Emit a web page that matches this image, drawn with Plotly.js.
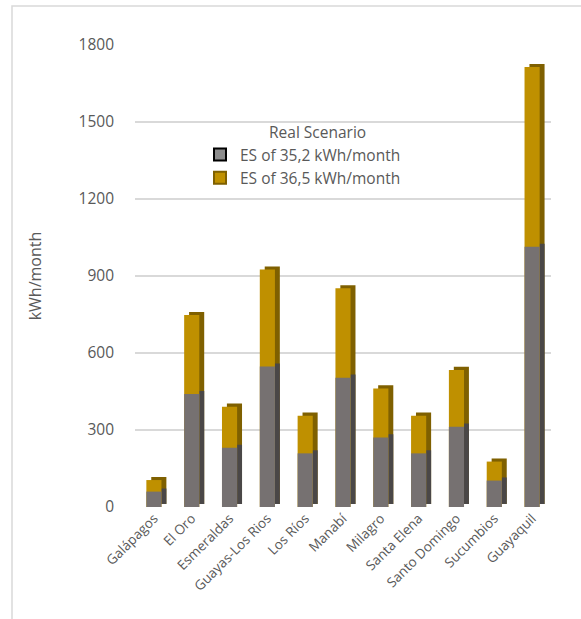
<!DOCTYPE html>
<html>
<head>
<meta charset="utf-8">
<script src="https://cdn.plot.ly/plotly-3.0.1.min.js"></script>
<style>html,body{margin:0;padding:0;background:#fff;}#chart{width:581px;height:619px;}</style>
</head>
<body>
<div id="chart"></div>
<script>
const regions = ["Galápagos","El Oro","Esmeraldas","Guayas-Los Rios","Los Ríos","Manabí","Milagro","Santa Elena","Santo Domingo","Sucumbios","Guayaquil"];
const es352 = [60, 440, 231, 547, 209, 504, 271, 209, 313, 103, 1014];
const es365 = [105, 748, 391, 925, 356, 852, 462, 356, 534, 177, 1714];
const yTicks = [0, 300, 600, 900, 1200, 1500, 1800];

const depth = 12;
const sideShift = 0.13;
const barW = 0.4;
const font = "Open Sans, sans-serif";

const depthBase = regions.map(() => depth);

const traces = [
  {type:'bar', x:regions, y:es365, base:depthBase, width:barW, offset:-barW/2+sideShift,
   marker:{color:'#7F6000'}, showlegend:false, hoverinfo:'skip'},
  {type:'bar', x:regions, y:es352, base:depthBase, width:barW, offset:-barW/2+sideShift,
   marker:{color:'#4A4747'}, showlegend:false, hoverinfo:'skip'},
  {type:'bar', x:regions, y:es365, width:barW, offset:-barW/2,
   marker:{color:'#BF9000'}, showlegend:false, name:'ES of 36,5 kWh/month'},
  {type:'bar', x:regions, y:es352, width:barW, offset:-barW/2,
   marker:{color:'#767171'}, showlegend:false, name:'ES of 35,2 kWh/month'},
  {type:'bar', x:[null], y:[null], name:'ES of 35,2 kWh/month', legendrank:1,
   marker:{color:'#8c8c8c', line:{color:'#000000', width:2}}},
  {type:'bar', x:[null], y:[null], name:'ES of 36,5 kWh/month', legendrank:2,
   marker:{color:'#BF9000', line:{color:'#7F6000', width:2}}}
];

const L = 135, R = 551, T = 45, B = 507;
const W = R - L, H = B - T;
const px = v => (v - L) / W;
const py = v => (B - v) / H;

const layout = {
  width:581, height:619,
  margin:{l:L, r:581-R, t:T, b:619-B},
  paper_bgcolor:'#ffffff', plot_bgcolor:'#ffffff',
  barmode:'overlay',
  font:{family:font, color:'#595959', size:13},
  xaxis:{type:'category', range:[-0.5, 10.5], tickangle:-45, showgrid:false,
    zeroline:false, showline:false, ticks:'', tickfont:{size:13.5, color:'#595959'}},
  yaxis:{range:[0, 1800], tickvals:yTicks, ticktext:yTicks.map(String),
    showgrid:true, gridcolor:'#d9d9d9', gridwidth:1.5, zeroline:false, showline:false,
    ticklabelstandoff:20, tickfont:{size:15.5, color:'#595959'},
    title:{text:'kWh/month', font:{size:16, color:'#595959'}, standoff:32}},
  legend:{x:px(200), y:py(138), xanchor:'left', yanchor:'top', bgcolor:'rgba(0,0,0,0)',
    font:{size:15.5, color:'#595959'}, tracegroupgap:0},
  annotations:[
    {text:'Real Scenario', xref:'paper', yref:'paper', x:px(317), y:py(132),
     xanchor:'center', yanchor:'middle', showarrow:false, font:{size:15.5, color:'#595959'}}
  ],
  shapes:[
    {type:'rect', xref:'paper', yref:'paper', x0:px(12), x1:px(640), y0:py(6), y1:py(700),
     line:{color:'#d9d9d9', width:1.5}, fillcolor:'rgba(0,0,0,0)', layer:'below'}
  ],
  showlegend:true
};

Plotly.newPlot('chart', traces, layout, {displayModeBar:false, staticPlot:true});
</script>
</body>
</html>
